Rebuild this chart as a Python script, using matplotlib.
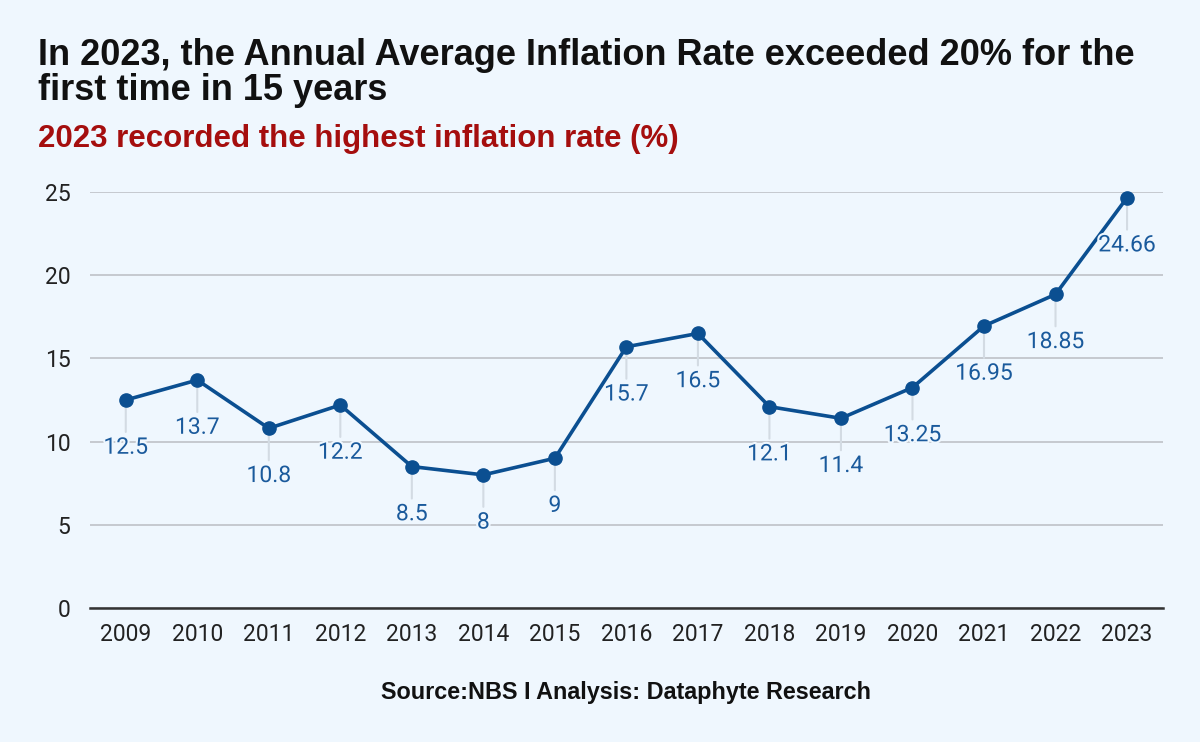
import matplotlib
matplotlib.use("Agg")
import matplotlib.pyplot as plt
import matplotlib.patheffects as pe

years = ["2009", "2010", "2011", "2012", "2013", "2014", "2015", "2016",
         "2017", "2018", "2019", "2020", "2021", "2022", "2023"]
inflation = [12.5, 13.7, 10.8, 12.2, 8.5, 8, 9, 15.7, 16.5, 12.1, 11.4,
             13.25, 16.95, 18.85, 24.66]
value_labels = ["12.5", "13.7", "10.8", "12.2", "8.5", "8", "9", "15.7",
                "16.5", "12.1", "11.4", "13.25", "16.95", "18.85", "24.66"]
yticks = [0, 5, 10, 15, 20, 25]

BG = "#eff7fe"
LINE = "#0b4f91"
LABEL = "#1a5a9c"

fig = plt.figure(figsize=(12, 7.42), dpi=100, facecolor=BG)
ax = fig.add_axes([0.075, 0.1806, 0.894, 0.5606])
ax.set_facecolor(BG)

x = list(range(len(years)))
ax.plot(x, inflation, color=LINE, lw=2.6, marker="o", markersize=9.5,
        zorder=4, clip_on=False)

for i, (v, lab) in enumerate(zip(inflation, value_labels)):
    ax.annotate("", xy=(i, v), xytext=(0, -23), textcoords="offset points",
                arrowprops=dict(arrowstyle="-", color="#d3dbe3", lw=1.5,
                                shrinkA=0, shrinkB=0), zorder=2)
    ax.annotate(lab, xy=(i, v), xytext=(0, -34), textcoords="offset points",
                ha="center", va="center", fontsize=16.5, color=LABEL,
                family="Roboto", zorder=5,
                path_effects=[pe.withStroke(linewidth=3, foreground=BG)])

ax.set_xlim(-0.5, len(years) - 0.5)
ax.set_ylim(0, 25)
ax.set_yticks(yticks)
ax.set_yticklabels([str(t) for t in yticks])
ax.set_xticks(x)
ax.set_xticklabels(years)
ax.tick_params(axis="both", length=0, labelsize=16.5, colors="#222222")
ax.tick_params(axis="x", pad=11)
ax.tick_params(axis="y", pad=14)
for t in ax.get_xticklabels() + ax.get_yticklabels():
    t.set_family("Roboto")

ax.grid(axis="y", color="#c2c6cc", lw=1.3, zorder=0)
ax.set_axisbelow(True)
for s in ["top", "right", "left"]:
    ax.spines[s].set_visible(False)
ax.spines["bottom"].set_color("#333333")
ax.spines["bottom"].set_linewidth(1.8)
ax.spines["bottom"].set_zorder(3)

fig.text(0.032, 0.949, "In 2023, the Annual Average Inflation Rate exceeded 20% for the\nfirst time in 15 years",
         ha="left", va="top", fontsize=26, fontweight="bold",
         family="Liberation Sans", color="#111111", linespacing=1.0)
fig.text(0.032, 0.812, "2023 recorded the highest inflation rate (%)",
         ha="left", va="center", fontsize=22.5, fontweight="bold",
         family="Liberation Sans", color="#a50e0e")
fig.text(0.5217, 0.067, "Source:NBS I Analysis: Dataphyte Research",
         ha="center", va="center", fontsize=16.8, fontweight="bold",
         family="Liberation Sans", color="#111111")

fig.savefig("out.png", dpi=100, facecolor=BG)
